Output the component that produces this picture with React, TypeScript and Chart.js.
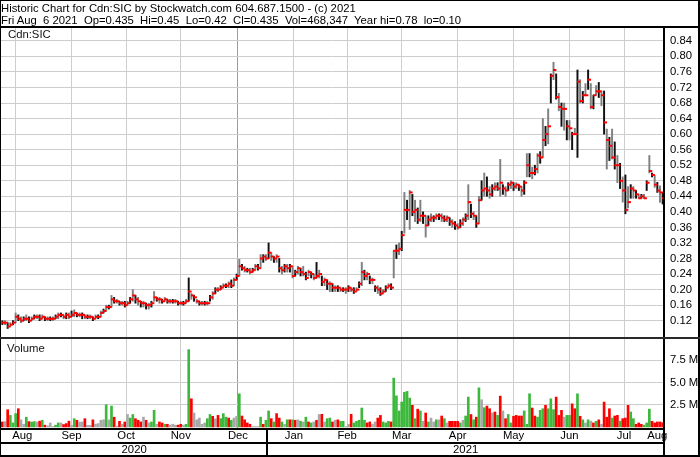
import React, { useEffect, useRef } from 'react';
import { Chart, registerables } from 'chart.js';

Chart.register(...registerables);

// ---------- text ----------
const headerLine1 = 'Historic Chart for Cdn:SIC by Stockwatch.com 604.687.1500 - (c) 2021';
const headerLine2 = 'Fri Aug  6 2021  Op=0.435  Hi=0.45  Lo=0.42  Cl=0.435  Vol=468,347  Year hi=0.78  lo=0.10';
const symbolLabel = 'Cdn:SIC';
const volumeLabel = 'Volume';

// ---------- categories ----------
const monthLabels = ['Aug', 'Sep', 'Oct', 'Nov', 'Dec', 'Jan', 'Feb', 'Mar', 'Apr', 'May', 'Jun', 'Jul', 'Aug'];
const monthYears = [2020, 2020, 2020, 2020, 2020, 2021, 2021, 2021, 2021, 2021, 2021, 2021, 2021];
const monthDays = [16, 21, 20, 21, 22, 20, 20, 21, 21, 21, 21, 20, 5];

// ---------- tick labels ----------
const priceTicks = [0.12, 0.16, 0.2, 0.24, 0.28, 0.32, 0.36, 0.4, 0.44, 0.48, 0.52, 0.56, 0.6, 0.64, 0.68, 0.72, 0.76, 0.8, 0.84];
const volumeTicks = [2.5, 5, 7.5];

// ---------- series (one line per month) ----------
const high = [
  0.12, 0.12, 0.115, 0.115, 0.12, 0.14, 0.135, 0.13, 0.13, 0.135, 0.13, 0.13, 0.135, 0.135, 0.135, 0.135,
  0.13, 0.13, 0.13, 0.13, 0.135, 0.14, 0.14, 0.135, 0.14, 0.14, 0.145, 0.148, 0.14, 0.14, 0.14, 0.135, 0.135, 0.135, 0.13, 0.135, 0.135,
  0.145, 0.15, 0.16, 0.16, 0.185, 0.18, 0.175, 0.17, 0.17, 0.17, 0.17, 0.18, 0.2, 0.185, 0.18, 0.17, 0.17, 0.165, 0.165, 0.17,
  0.195, 0.18, 0.18, 0.175, 0.18, 0.175, 0.175, 0.175, 0.175, 0.17, 0.17, 0.17, 0.175, 0.23, 0.19, 0.185, 0.175, 0.17, 0.17, 0.17, 0.17,
  0.185, 0.195, 0.205, 0.205, 0.21, 0.215, 0.215, 0.22, 0.225, 0.23, 0.24, 0.278, 0.265, 0.26, 0.255, 0.255, 0.255, 0.265, 0.265, 0.29, 0.29, 0.29,
  0.32, 0.295, 0.285, 0.29, 0.28, 0.26, 0.265, 0.265, 0.265, 0.26, 0.25, 0.26, 0.255, 0.26, 0.245, 0.25, 0.245, 0.24, 0.27, 0.25,
  0.235, 0.23, 0.225, 0.22, 0.215, 0.21, 0.21, 0.205, 0.205, 0.205, 0.21, 0.205, 0.205, 0.205, 0.22, 0.27, 0.25, 0.245, 0.235, 0.23,
  0.21, 0.21, 0.205, 0.2, 0.21, 0.215, 0.215, 0.3, 0.315, 0.32, 0.35, 0.45, 0.43, 0.455, 0.445, 0.43, 0.41, 0.43, 0.4, 0.39, 0.39,
  0.395, 0.39, 0.395, 0.395, 0.395, 0.39, 0.39, 0.385, 0.38, 0.375, 0.37, 0.38, 0.385, 0.395, 0.47, 0.42, 0.4, 0.39, 0.44, 0.48, 0.5,
  0.49, 0.465, 0.47, 0.475, 0.475, 0.535, 0.47, 0.465, 0.475, 0.48, 0.475, 0.475, 0.47, 0.465, 0.48, 0.55, 0.55, 0.515, 0.52, 0.55, 0.555,
  0.64, 0.62, 0.665, 0.755, 0.785, 0.755, 0.705, 0.68, 0.68, 0.635, 0.635, 0.605, 0.615, 0.765, 0.74, 0.71, 0.73, 0.765, 0.73, 0.7, 0.725,
  0.733, 0.711, 0.711, 0.613, 0.592, 0.613, 0.58, 0.545, 0.525, 0.49, 0.495, 0.465, 0.47, 0.465, 0.455, 0.445, 0.445, 0.445, 0.48, 0.545,
  0.5, 0.493, 0.476, 0.467, 0.45,
];

const low = [
  0.11, 0.11, 0.1, 0.105, 0.11, 0.115, 0.12, 0.115, 0.12, 0.12, 0.115, 0.12, 0.125, 0.125, 0.12, 0.125,
  0.12, 0.12, 0.12, 0.12, 0.125, 0.125, 0.13, 0.125, 0.125, 0.125, 0.13, 0.13, 0.13, 0.13, 0.125, 0.125, 0.125, 0.125, 0.12, 0.125, 0.125,
  0.13, 0.14, 0.145, 0.15, 0.155, 0.165, 0.165, 0.16, 0.16, 0.155, 0.16, 0.165, 0.17, 0.165, 0.16, 0.155, 0.155, 0.15, 0.15, 0.155,
  0.17, 0.17, 0.165, 0.165, 0.17, 0.165, 0.165, 0.165, 0.165, 0.16, 0.16, 0.16, 0.165, 0.17, 0.175, 0.17, 0.165, 0.16, 0.16, 0.16, 0.16,
  0.17, 0.175, 0.19, 0.195, 0.2, 0.205, 0.205, 0.205, 0.205, 0.21, 0.225, 0.235, 0.25, 0.245, 0.245, 0.24, 0.245, 0.25, 0.25, 0.255, 0.27, 0.275,
  0.28, 0.275, 0.27, 0.27, 0.245, 0.24, 0.245, 0.245, 0.245, 0.23, 0.235, 0.24, 0.235, 0.235, 0.225, 0.235, 0.23, 0.225, 0.23, 0.23,
  0.21, 0.21, 0.2, 0.195, 0.195, 0.195, 0.195, 0.195, 0.195, 0.19, 0.195, 0.195, 0.19, 0.195, 0.205, 0.21, 0.225, 0.225, 0.215, 0.215,
  0.195, 0.19, 0.185, 0.19, 0.195, 0.205, 0.2, 0.23, 0.28, 0.29, 0.3, 0.345, 0.38, 0.355, 0.39, 0.375, 0.37, 0.375, 0.37, 0.335, 0.365,
  0.375, 0.375, 0.38, 0.38, 0.375, 0.375, 0.375, 0.365, 0.36, 0.355, 0.355, 0.36, 0.365, 0.375, 0.38, 0.385, 0.38, 0.36, 0.37, 0.43, 0.44,
  0.44, 0.435, 0.44, 0.455, 0.455, 0.44, 0.445, 0.44, 0.455, 0.46, 0.455, 0.46, 0.455, 0.44, 0.445, 0.49, 0.49, 0.485, 0.495, 0.5, 0.525,
  0.54, 0.57, 0.575, 0.68, 0.74, 0.69, 0.66, 0.62, 0.61, 0.585, 0.585, 0.56, 0.6, 0.54, 0.68, 0.68, 0.7, 0.715, 0.665, 0.665, 0.7,
  0.694, 0.673, 0.6, 0.51, 0.532, 0.536, 0.51, 0.475, 0.46, 0.425, 0.395, 0.41, 0.435, 0.435, 0.435, 0.435, 0.435, 0.435, 0.455, 0.5,
  0.49, 0.463, 0.45, 0.424, 0.42,
];

const close = [
  0.115, 0.115, 0.105, 0.11, 0.115, 0.13, 0.125, 0.12, 0.125, 0.125, 0.12, 0.125, 0.13, 0.13, 0.125, 0.13,
  0.125, 0.125, 0.125, 0.125, 0.13, 0.135, 0.135, 0.13, 0.135, 0.13, 0.135, 0.14, 0.135, 0.135, 0.135, 0.13, 0.13, 0.13, 0.125, 0.13, 0.13,
  0.14, 0.145, 0.155, 0.155, 0.175, 0.17, 0.17, 0.165, 0.165, 0.16, 0.165, 0.175, 0.185, 0.175, 0.17, 0.165, 0.165, 0.16, 0.16, 0.165,
  0.18, 0.175, 0.175, 0.17, 0.175, 0.17, 0.17, 0.17, 0.17, 0.165, 0.165, 0.165, 0.17, 0.195, 0.185, 0.18, 0.17, 0.165, 0.165, 0.165, 0.165,
  0.18, 0.19, 0.2, 0.2, 0.205, 0.21, 0.21, 0.215, 0.21, 0.225, 0.235, 0.26, 0.255, 0.25, 0.25, 0.245, 0.25, 0.26, 0.255, 0.28, 0.285, 0.28,
  0.295, 0.285, 0.28, 0.285, 0.255, 0.25, 0.26, 0.255, 0.26, 0.235, 0.245, 0.255, 0.245, 0.24, 0.23, 0.245, 0.24, 0.23, 0.235, 0.24,
  0.22, 0.225, 0.215, 0.215, 0.205, 0.205, 0.205, 0.2, 0.2, 0.2, 0.205, 0.2, 0.195, 0.2, 0.215, 0.245, 0.235, 0.24, 0.225, 0.225,
  0.205, 0.2, 0.19, 0.195, 0.205, 0.21, 0.205, 0.3, 0.3, 0.305, 0.34, 0.405, 0.405, 0.45, 0.4, 0.405, 0.38, 0.39, 0.39, 0.365, 0.38,
  0.385, 0.385, 0.39, 0.39, 0.385, 0.38, 0.385, 0.375, 0.37, 0.365, 0.36, 0.37, 0.38, 0.39, 0.425, 0.395, 0.39, 0.37, 0.43, 0.455, 0.46,
  0.455, 0.445, 0.46, 0.465, 0.46, 0.475, 0.46, 0.455, 0.47, 0.475, 0.465, 0.47, 0.465, 0.455, 0.475, 0.52, 0.5, 0.5, 0.51, 0.545, 0.54,
  0.585, 0.6, 0.62, 0.75, 0.765, 0.695, 0.67, 0.665, 0.665, 0.62, 0.615, 0.6, 0.6, 0.735, 0.685, 0.7, 0.7, 0.74, 0.67, 0.7, 0.71,
  0.71, 0.7, 0.63, 0.585, 0.57, 0.54, 0.52, 0.52, 0.48, 0.455, 0.405, 0.425, 0.46, 0.455, 0.445, 0.435, 0.44, 0.435, 0.475, 0.505,
  0.495, 0.47, 0.455, 0.45, 0.435,
];

// volume in millions of shares
const volume = [
  0.56, 0.6, 1.94, 1.3, 0.45, 1.5, 2.05, 0.8, 0.3, 1.1, 0.6, 0.55, 0.6, 0.55, 0.65, 0.75,
  0.2, 0.12, 0.45, 0.05, 0.2, 0.45, 0.45, 0.27, 0.38, 0.65, 0.18, 0.93, 0.75, 0.55, 0.55, 0.93, 0.18, 0.18, 0.8, 0.3, 0.38,
  0.75, 0.8, 2.5, 0.8, 2.35, 1.1, 0.1, 0.63, 0.3, 0.56, 1.4, 1.0, 1.4, 0.93, 0.75, 0.56, 1.1, 0.75, 0.45, 0.56,
  1.87, 0.3, 0.56, 0.45, 0.3, 0.3, 0.2, 0.3, 0.2, 0.2, 0.3, 0.2, 0.3, 8.7, 3.17, 1.57, 0.8, 1.0, 0.3, 0.45, 0.93,
  1.4, 1.2, 0.9, 1.3, 0.93, 1.5, 1.1, 1.0, 0.75, 1.0, 1.2, 3.73, 1.23, 0.8, 0.45, 0.3, 0.05, 0.05, 0.05, 1.1, 0.3, 0.75,
  1.8, 0.93, 0.56, 1.5, 1.0, 0.56, 0.3, 0.8, 0.8, 0.8, 0.75, 0.8, 0.65, 0.56, 1.1, 0.56, 0.45, 0.56, 0.75, 1.4,
  1.42, 0.56, 0.93, 1.0, 0.56, 0.75, 0.8, 0.63, 0.63, 0.05, 0.3, 1.42, 0.45, 0.63, 0.75, 2.13, 0.75, 0.45, 0.56, 0.3,
  0.56, 1.0, 1.3, 0.56, 0.45, 0.63, 0.56, 5.5, 3.5, 1.8, 2.8, 3.9, 4.0, 3.25, 2.43, 0.93, 2.0, 1.8, 0.63, 1.57, 0.56,
  1.0, 0.56, 0.8, 0.8, 1.23, 0.93, 0.45, 0.63, 0.63, 0.63, 0.63, 0.45, 0.75, 1.23, 3.36, 1.4, 0.8, 1.1, 4.4, 3.06, 2.16,
  2.35, 2.05, 1.57, 1.68, 1.3, 3.47, 1.8, 0.93, 1.4, 0.45, 1.2, 1.3, 1.23, 1.23, 1.8, 0.3, 3.73, 2.13, 1.23, 1.1, 1.87,
  2.05, 2.43, 2.05, 3.17, 1.94, 3.36, 1.3, 1.87, 1.1, 1.3, 1.3, 2.6, 2.05, 3.73, 1.2, 0.8, 0.45, 0.8, 0.65, 0.45, 0.63,
  0.8, 0.3, 2.8, 1.1, 2.05, 1.0, 1.23, 1.3, 0.65, 0.93, 1.0, 2.43, 1.68, 0.93, 0.3, 0.45, 0.3, 0.2, 0.45, 2.0,
  0.63, 0.45, 0.56, 0.56, 0.468,
];

// day's change: G = up, R = down, N = unchanged (one string per month)
const changeByMonth = [
  'RNRGGGRNNGRGGNRG',
  'RNNNGGNRRRNGRNNRNNRNN',
  'NNGNGRNRNRNGGRRRNRNG',
  'GNRRGRNNNRRNGGRNNNNNG',
  'GRNRGGGRGNNGRRRRNNNGRG',
  'GRGRRGNGRGRNGNGRGNRN',
  'RNGGRNRGGNNRGGGGGRRN',
  'NRRGGGRGGGGGGGRGRGNRG',
  'NNGNRGNRRRRGNGGRGRGNG',
  'RRNRGRNRGGRRRRGGGRRGG',
  'GRGGGRRRNGGRRGRGNGNRG',
  'RNRRRGRRGRRRGGRRRGGG',
  'RRRRR',
];

// ---------- derived ----------
const N = high.length;
const dayChange = changeByMonth.join('').split('');
const monthStart: number[] = [];
{
  let acc = 0;
  for (const d of monthDays) {
    monthStart.push(acc);
    acc += d;
  }
}
const boundaryTicks = monthStart.slice(1).map((s) => s - 0.5);
const monthMid = monthStart.map((s, k) => s - 0.5 + monthDays[k] / 2);
const yearFirstMonth = monthYears.findIndex((y) => y === 2021);
const yearBoundary = monthStart[yearFirstMonth] - 0.5;
const yearLabels = ['2020', '2021'];
const yearMid = [(-0.5 + yearBoundary) / 2, (yearBoundary + N - 0.5) / 2];

const FONT = 'Arial, "Liberation Sans", Helvetica, sans-serif';
const FS = 11.3;

const framePlugin = {
  id: 'stockFrame',
  afterDraw(chart: any) {
    const { ctx, chartArea } = chart;
    const W = chart.width;
    const H = chart.height;
    const yv = chart.scales.yVol;
    const xy = chart.scales.xYear;
    const xs = chart.scales.x;
    const yearX = Math.round(xs.getPixelForValue(yearBoundary));
    ctx.save();
    ctx.fillStyle = '#000';
    ctx.fillRect(0, 0, W, 1);
    ctx.fillRect(0, 0, 1, H);
    ctx.fillRect(W - 2, 0, 2, H);
    ctx.fillRect(0, H - 2, W, 2);
    ctx.fillRect(0, chartArea.top - 2, W, 2);
    ctx.fillRect(chartArea.right - 1, chartArea.top, 2, H - chartArea.top);
    ctx.fillStyle = '#2a2a2a';
    ctx.fillRect(0, yv.top - 1, W, 2);
    ctx.fillStyle = '#000';
    ctx.fillRect(0, chartArea.bottom, chartArea.right, 2);
    ctx.fillRect(0, xy.top - 1, chartArea.right, 2);
    ctx.fillRect(yearX - 1, chartArea.bottom, 2, H - chartArea.bottom);
    ctx.font = `${FS}px ${FONT}`;
    ctx.textAlign = 'left';
    ctx.textBaseline = 'alphabetic';
    ctx.fillStyle = '#111';
    ctx.fillText(symbolLabel, 8, chartArea.top + 10.3);
    ctx.fillText(volumeLabel, 7, yv.top + 14);
    ctx.restore();
  },
};

export default function App() {
  const ref = useRef<HTMLCanvasElement>(null);

  useEffect(() => {
    if (!ref.current) return;
    Chart.defaults.font.family = FONT;
    Chart.defaults.font.size = FS;
    Chart.defaults.color = '#000';

    const xBase = {
      type: 'linear',
      min: -0.5,
      max: N - 0.5,
      bounds: 'data',
      offset: false,
      border: { display: false },
    };

    const config: any = {
      type: 'bar',
      data: {
        datasets: [
          {
            type: 'scatter',
            label: 'Close',
            xAxisID: 'x',
            yAxisID: 'yPrice',
            data: close.map((c, i) => ({ x: i + 0.45, y: c })),
            pointStyle: 'line',
            pointRadius: 1.7,
            pointHoverRadius: 1.7,
            pointBorderColor: '#ff0000',
            pointBorderWidth: 2,
            order: 0,
          },
          {
            type: 'bar',
            label: 'Range',
            xAxisID: 'x',
            yAxisID: 'yPrice',
            data: high.map((h, i) => ({ x: i, y: [low[i], h] })),
            backgroundColor: high.map((_, i) => (i % 2 ? '#808080' : '#111111')),
            borderWidth: 0,
            barThickness: 1.3,
            grouped: false,
            order: 1,
          },
          {
            type: 'bar',
            label: 'Volume',
            xAxisID: 'x',
            yAxisID: 'yVol',
            data: volume.map((v, i) => ({ x: i, y: v })),
            backgroundColor: dayChange.map((d) => (d === 'G' ? '#3db83d' : d === 'R' ? '#ff0000' : '#a8a8a8')),
            borderWidth: 0,
            barThickness: 2,
            grouped: false,
            order: 2,
          },
        ],
      },
      options: {
        responsive: false,
        animation: false,
        events: [],
        layout: { autoPadding: false, padding: { top: 28, left: 1, right: 0, bottom: 1 } },
        plugins: { legend: { display: false }, tooltip: { enabled: false }, title: { display: false } },
        scales: {
          x: {
            ...xBase,
            position: 'bottom',
            grid: {
              drawTicks: false,
              lineWidth: 1,
              color: (c: any) => (c.tick && Math.abs(c.tick.value - yearBoundary) < 1e-6 ? '#9c9c9c' : '#cdcdcd'),
            },
            ticks: { display: false },
            afterBuildTicks: (s: any) => {
              s.ticks = boundaryTicks.map((v) => ({ value: v }));
            },
            afterFit: (s: any) => {
              s.height = 0;
            },
          },
          xMonth: {
            ...xBase,
            position: 'bottom',
            grid: { display: false, drawTicks: false },
            ticks: {
              autoSkip: false,
              maxRotation: 0,
              padding: 2,
              color: '#000',
              font: { size: FS, lineHeight: 1 },
              callback: (_v: any, i: number) => monthLabels[i],
            },
            afterBuildTicks: (s: any) => {
              s.ticks = monthMid.map((v) => ({ value: v }));
            },
            afterFit: (s: any) => {
              s.height = 15;
            },
          },
          xYear: {
            ...xBase,
            position: 'bottom',
            grid: { display: false, drawTicks: false },
            ticks: {
              autoSkip: false,
              maxRotation: 0,
              padding: 1,
              color: '#000',
              font: { size: FS, lineHeight: 1 },
              callback: (_v: any, i: number) => yearLabels[i],
            },
            afterBuildTicks: (s: any) => {
              s.ticks = yearMid.map((v) => ({ value: v }));
            },
            afterFit: (s: any) => {
              s.height = 13;
            },
          },
          yPrice: {
            type: 'linear',
            position: 'right',
            stack: 'panels',
            stackWeight: 310,
            min: 0.0755,
            max: 0.873,
            bounds: 'data',
            grid: { color: '#cdcdcd', lineWidth: 1, drawTicks: false },
            border: { display: false },
            ticks: {
              autoSkip: false,
              padding: 6,
              color: '#000',
              callback: (v: any) => Number(v).toFixed(2),
            },
            afterBuildTicks: (s: any) => {
              s.ticks = priceTicks.map((v) => ({ value: v }));
            },
            afterFit: (s: any) => {
              s.width = 36;
            },
          },
          yVol: {
            type: 'linear',
            position: 'right',
            stack: 'panels',
            stackWeight: 90,
            min: -0.12,
            max: 10.01,
            bounds: 'data',
            grid: { color: '#cdcdcd', lineWidth: 1, drawTicks: false },
            border: { display: false },
            ticks: {
              autoSkip: false,
              padding: 6,
              color: '#000',
              callback: (v: any) => Number(v).toFixed(1) + ' M',
            },
            afterBuildTicks: (s: any) => {
              s.ticks = volumeTicks.map((v) => ({ value: v }));
            },
            afterFit: (s: any) => {
              s.width = 36;
            },
          },
        },
      },
      plugins: [framePlugin],
    };

    const chart = new Chart(ref.current, config);
    return () => chart.destroy();
  }, []);

  return (
    <div style={{ position: 'absolute', left: 0, top: 0, width: 700, height: 457, background: '#fff', overflow: 'hidden' }}>
      <canvas ref={ref} width={700} height={457} style={{ position: 'absolute', left: 0, top: 0, width: 700, height: 457 }} />
      <div
        style={{
          position: 'absolute',
          left: 1,
          top: 3,
          font: `${FS}px ${FONT}`,
          lineHeight: '11.5px',
          whiteSpace: 'pre',
          color: '#000',
        }}
      >
        {headerLine1 + '\n' + headerLine2}
      </div>
    </div>
  );
}
